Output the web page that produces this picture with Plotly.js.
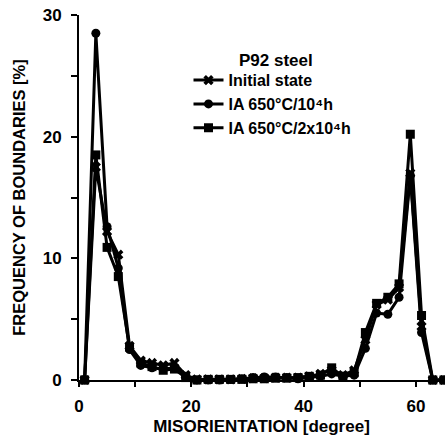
<!DOCTYPE html>
<html>
<head>
<meta charset="utf-8">
<script src="https://cdn.plot.ly/plotly-3.0.1.min.js"></script>
<style>html,body{margin:0;padding:0;background:#fff;}#chart{width:445px;height:439px;}</style>
</head>
<body>
<div id="chart"></div>
<script>
const misorientation = [1,3,5,7,9,11,13,15,17,19,21,23,25,27,29,31,33,35,37,39,41,43,45,47,49,51,53,55,57,59,61,63,65];
const initialState = [0,17.5,12.2,10.3,2.8,1.6,1.4,1.2,1.4,0.4,0.05,0.05,0.05,0.05,0.1,0.15,0.15,0.2,0.2,0.2,0.3,0.5,0.8,0.4,0.8,3.3,6.2,6.6,7.6,17.0,4.4,0,0];
const ia650_1e4 = [0,28.5,12.6,9.2,2.5,1.2,1.0,0.9,1.0,0.3,0,0,0,0.05,0.1,0.2,0.25,0.25,0.2,0.1,0.2,0.3,0.5,0.3,0.4,2.6,5.5,5.4,6.8,16.8,3.9,0,0];
const ia650_2e4 = [0,18.5,10.9,8.5,2.7,1.4,1.1,0.8,0.9,0.2,0,0.05,0.05,0.05,0.05,0.1,0.1,0.15,0.15,0.2,0.3,0.4,1.0,0.3,0.6,3.9,6.3,6.8,7.9,20.2,5.3,0,0];
const seriesNames = ['Initial state','IA 650°C/10⁴h','IA 650°C/2x10⁴h'];
const legendTitle = 'P92 steel';
const xTickVals = [0,10,20,30,40,50,60];
const xTickText = ['0','','20','','40','','60'];
const yTickVals = [0,5,10,15,20,25,30];
const yTickText = ['0','','10','','20','','30'];

const FONT = 'Liberation Sans, Arial, sans-serif';
const symbols = ['x','circle','square'];
const data = [initialState, ia650_1e4, ia650_2e4].map((ys,i)=>({
  x: misorientation, y: ys, name: seriesNames[i], type:'scatter', mode:'lines+markers',
  line:{color:'#000', width:3},
  marker:{symbol:symbols[i], size:9, color:'#000'},
  cliponaxis:false
}));

const layout = {
  width:445, height:439,
  margin:{l:79, r:1, t:15, b:59},
  paper_bgcolor:'#fff', plot_bgcolor:'#fff',
  font:{family:FONT, size:17, color:'#000', weight:'bold'},
  showlegend:true,
  legend:{x:0.3, y:0.868, xanchor:'left', yanchor:'top', bgcolor:'rgba(0,0,0,0)',
    font:{family:FONT, size:16, color:'#000', weight:'bold'}, tracegroupgap:0, itemwidth:30},
  annotations:[{text:'<b>'+legendTitle+'</b>', xref:'paper', yref:'paper', x:0.54, y:0.874, xanchor:'center', yanchor:'middle', showarrow:false, font:{family:FONT, size:17, color:'#000'}}],
  xaxis:{range:[0,65], tickmode:'array', tickvals:xTickVals, ticktext:xTickText,
    ticks:'outside', ticklen:5, tickwidth:2, tickcolor:'#000', ticklabelstandoff:5,
    showline:true, linewidth:2, linecolor:'#000', showgrid:false, zeroline:false,
    tickfont:{family:FONT, size:17, color:'#000', weight:'bold'},
    title:{text:'MISORIENTATION [degree]', font:{family:FONT, size:17, color:'#000', weight:'bold'}, standoff:5}},
  yaxis:{range:[0,30], tickmode:'array', tickvals:yTickVals, ticktext:yTickText,
    ticks:'outside', ticklen:6, tickwidth:2, tickcolor:'#000', ticklabelstandoff:6,
    showline:true, linewidth:2, linecolor:'#000', showgrid:false, zeroline:false,
    tickfont:{family:FONT, size:17, color:'#000', weight:'bold'},
    title:{text:'FREQUENCY OF BOUNDARIES [%]', font:{family:FONT, size:16.5, color:'#000', weight:'bold'}, standoff:13}},
  xaxis2:{overlaying:'x', side:'top', anchor:'y', range:[0,65], tickmode:'array', tickvals:xTickVals,
    showticklabels:false, ticks:'inside', ticklen:6, tickwidth:2, tickcolor:'#000',
    showline:true, linewidth:2, linecolor:'#000', showgrid:false, zeroline:false},
  yaxis2:{overlaying:'y', side:'right', anchor:'x', range:[0,30], tickmode:'array', tickvals:yTickVals,
    showticklabels:false, ticks:'inside', ticklen:6, tickwidth:2, tickcolor:'#000',
    showline:true, linewidth:2, linecolor:'#000', showgrid:false, zeroline:false}
};
Plotly.newPlot('chart', data, layout, {displayModeBar:false, staticPlot:true});
</script>
</body>
</html>
